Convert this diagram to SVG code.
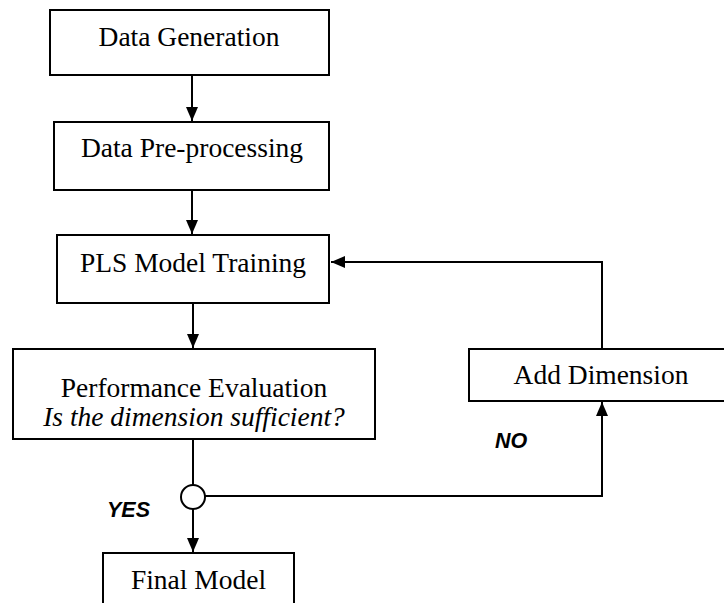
<svg xmlns="http://www.w3.org/2000/svg" width="724" height="603" viewBox="0 0 724 603">
<defs>
<style>
.box{fill:#fff;stroke:#000;stroke-width:2}
.t{font-family:"Liberation Serif","Times New Roman",serif;font-size:27.5px;fill:#000;text-anchor:middle}
.i{font-style:italic}
.lab{font-family:"Liberation Sans",Arial,sans-serif;font-size:21.5px;font-weight:bold;font-style:italic;fill:#000}
.ln{fill:none;stroke:#000;stroke-width:2}
</style>
<marker id="ah" viewBox="0 0 14 12" refX="14" refY="6" markerWidth="14" markerHeight="12" markerUnits="userSpaceOnUse" orient="auto">
<path d="M0,0 L14,6 L0,12 Z" fill="#000"/>
</marker>
</defs>
<rect width="724" height="603" fill="#fff"/>
<g id="connectors">
<line class="ln" x1="192" y1="75" x2="192" y2="121" marker-end="url(#ah)"/>
<line class="ln" x1="192" y1="190" x2="192" y2="234" marker-end="url(#ah)"/>
<line class="ln" x1="193" y1="303" x2="193" y2="348" marker-end="url(#ah)"/>
<line class="ln" x1="193" y1="439" x2="193" y2="485"/>
<line class="ln" x1="193" y1="509" x2="193" y2="552" marker-end="url(#ah)"/>
<polyline class="ln" points="205,496 602,496 602,402" marker-end="url(#ah)"/>
<polyline class="ln" points="602,349 602,262 331,262" marker-end="url(#ah)"/>
</g>
<g id="n1">
<rect class="box" x="50" y="10" width="279" height="65"/>
<text class="t" x="189" y="46">Data Generation</text>
</g>
<g id="n2">
<rect class="box" x="54" y="122" width="275" height="68"/>
<text class="t" x="192" y="157">Data Pre-processing</text>
</g>
<g id="n3">
<rect class="box" x="57" y="235" width="272" height="68"/>
<text class="t" x="193" y="272">PLS Model Training</text>
</g>
<g id="n4">
<rect class="box" x="13" y="349" width="362" height="90"/>
<text class="t" x="194" y="397">Performance Evaluation</text>
<text class="t i" x="194" y="426">Is the dimension sufficient?</text>
</g>
<g id="n5">
<rect class="box" x="469" y="349" width="262" height="52"/>
<text class="t" x="601" y="384">Add Dimension</text>
</g>
<g id="decision">
<circle cx="193" cy="497" r="12" fill="#fff" stroke="#000" stroke-width="2"/>
</g>
<g id="n6">
<rect class="box" x="103" y="553" width="191" height="60"/>
<text class="t" x="198.5" y="589">Final Model</text>
</g>
<g id="labels">
<text class="lab" x="107" y="517">YES</text>
<text class="lab" x="495" y="448">NO</text>
</g>
</svg>
